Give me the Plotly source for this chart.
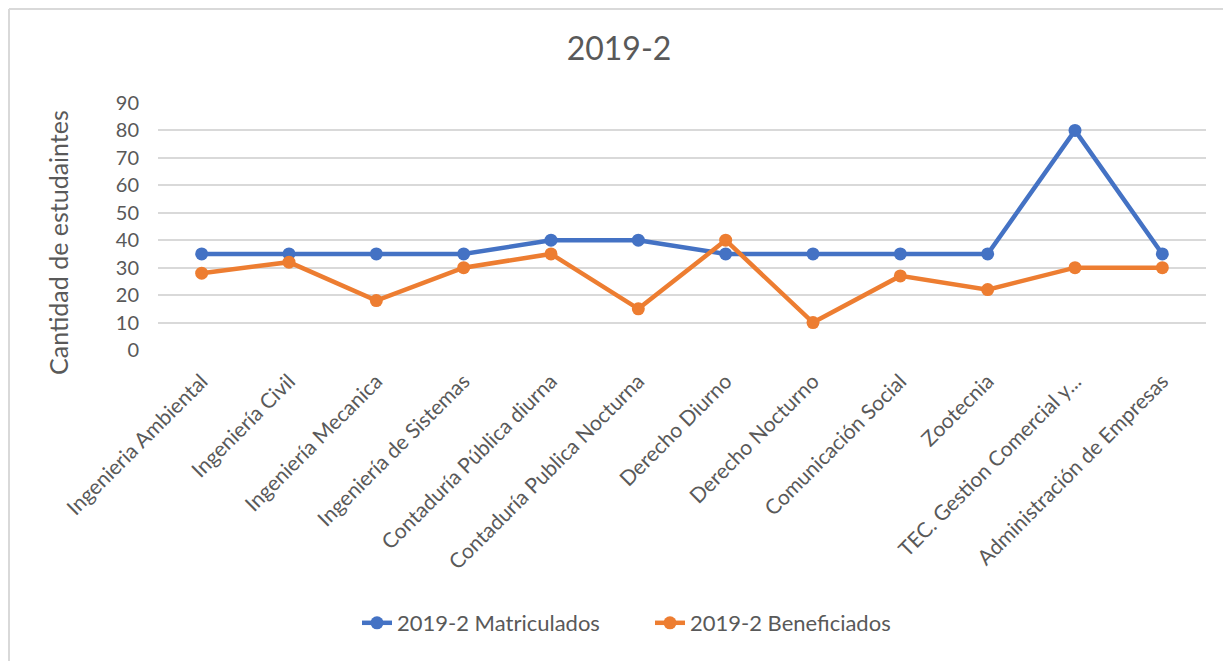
"""
Matriculados vs beneficiados por programa, periodo 2019-2.
"""
import plotly.graph_objects as go

programas = [
    "Ingenieria Ambiental",
    "Ingeniería Civil",
    "Ingeniería Mecanica",
    "Ingeniería de Sistemas",
    "Contaduría Pública diurna",
    "Contaduría Publica Nocturna",
    "Derecho Diurno",
    "Derecho Nocturno",
    "Comunicación Social",
    "Zootecnia",
    "TEC. Gestion Comercial y...",
    "Administración de Empresas",
]
matriculados = [35, 35, 35, 35, 40, 40, 35, 35, 35, 35, 80, 35]
beneficiados = [28, 32, 18, 30, 35, 15, 40, 10, 27, 22, 30, 30]
y_ticks = [0, 10, 20, 30, 40, 50, 60, 70, 80, 90]

# la página tiene 8px de margen en el body: todo se mide restando 8
OFF = 8
W, H = 1231 - OFF, 661 - OFF
L, T = 158 - OFF, 103 - OFF
R = W - (1206 - OFF)
B = H - (350 - OFF)
FONT = "Lato, Open Sans, sans-serif"
GRIS = "#595959"

fig = go.Figure()
for name, vals, color in [
    ("2019-2 Matriculados", matriculados, "#4472C4"),
    ("2019-2 Beneficiados", beneficiados, "#ED7D31"),
]:
    fig.add_trace(go.Scatter(
        x=programas, y=vals, name=name, mode="lines+markers",
        line=dict(color=color, width=4.5),
        marker=dict(color=color, size=13),
    ))

pw, ph = W - L - R, H - T - B


def px_x(p):
    return (p - OFF - L) / pw


def px_y(p):
    return (H - B - (p - OFF)) / ph


# marco gris (solo se ven borde izquierdo y superior)
borde = dict(color="#D9D9D9", width=2)
fig.add_shape(type="line", xref="paper", yref="paper",
              x0=px_x(OFF + 1), x1=px_x(OFF + 1), y0=px_y(661), y1=px_y(OFF + 1), line=borde)
fig.add_shape(type="line", xref="paper", yref="paper",
              x0=px_x(OFF + 1), x1=px_x(1231), y0=px_y(OFF + 1), y1=px_y(OFF + 1), line=borde)

# título del eje Y como anotación para ubicarlo como en Excel
fig.add_annotation(text="Cantidad de estudaintes", xref="paper", yref="paper",
                   x=px_x(58), y=px_y(243), xanchor="center", yanchor="middle",
                   textangle=-90, showarrow=False,
                   font=dict(size=25, color=GRIS, family=FONT))

fig.update_layout(
    width=W, height=H,
    margin=dict(l=L, r=R, t=T, b=B, autoexpand=False),
    paper_bgcolor="white", plot_bgcolor="white",
    font=dict(family=FONT, color=GRIS),
    title=dict(text="2019-2", xref="container", x=(619 - OFF) / W, xanchor="center",
               yref="container", y=1 - (49 - OFF) / H, yanchor="middle",
               font=dict(size=32, color=GRIS)),
    showlegend=True,
    legend=dict(orientation="h", x=px_x(650), xanchor="center",
                y=px_y(623), yanchor="middle", font=dict(size=22, color=GRIS),
                entrywidth=248, entrywidthmode="pixels"),
    xaxis=dict(
        type="category", tickangle=-45, tickfont=dict(size=21, color=GRIS),
        showgrid=False, showline=False, zeroline=False, ticks="",
        range=[-0.5, len(programas) - 0.5], ticklabelstandoff=14,
    ),
    yaxis=dict(
        range=[0, 90], tickvals=y_ticks, tickfont=dict(size=20, color=GRIS),
        showgrid=True, gridcolor="#D9D9D9", gridwidth=1.5,
        zeroline=False, showline=False, ticks="", ticklabelstandoff=18,
    ),
)

fig.write_html("out.html")
